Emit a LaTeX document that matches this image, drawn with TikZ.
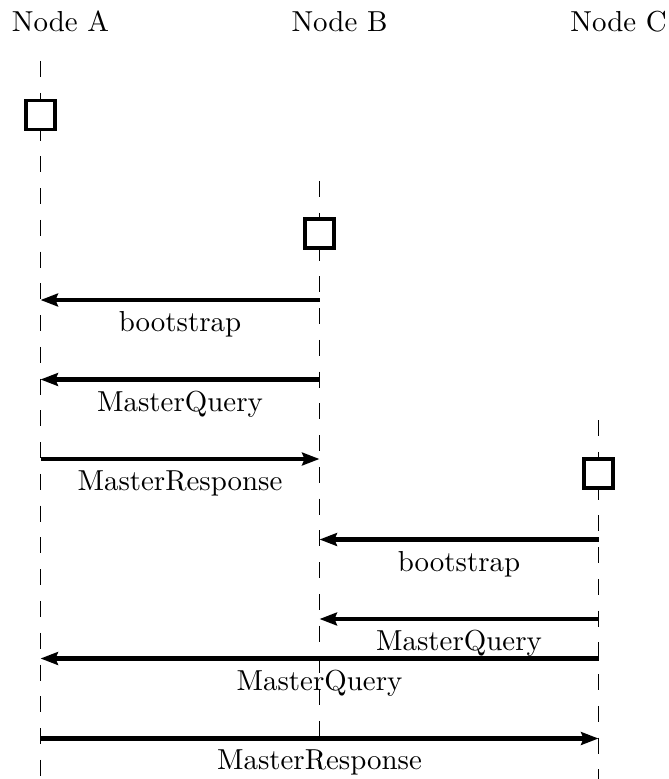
\documentclass[tikz,border=0pt]{standalone}
\usetikzlibrary{arrows.meta}
\tikzset{
  lifeline/.style={line width=0.6pt, dash pattern=on 5.54pt off 5.45pt},
  actbox/.style={draw, line width=1.2pt, fill=white, minimum size=9.9pt, inner sep=0pt},
  msg/.style={line width=1.4pt, -{Stealth[length=6pt, width=4.4pt, inset=0.8pt]}},
  msglabel/.style={below, inner sep=3.3pt},
  actor/.style={anchor=base}
}
\begin{document}
\begin{tikzpicture}[x=0.346pt, y=-0.346pt]
  \useasboundingbox (0,0) rectangle (668,779);

  % participants
  \node[actor] (nA) at (60.5,32) {Node A};
  \node[actor] (nB) at (339.5,32) {Node B};
  \node[actor] (nC) at (618.5,32) {Node C};

  % lifeline ends
  \coordinate (Atop) at (40.5,61);
  \coordinate (Abot) at (40.5,779);
  \coordinate (Btop) at (319.5,181);
  \coordinate (Bbot) at (319.5,779);
  \coordinate (Ctop) at (598.5,420);
  \coordinate (Cbot) at (598.5,779);

  \draw[lifeline] (Atop) -- (Abot);
  \draw[lifeline] (Btop) -- (Bbot);
  \draw[lifeline] (Ctop) -- (Cbot);

  % activation boxes
  \node[actbox] (boxA) at (40.5,115) {};
  \node[actbox] (boxB) at (319.5,233.5) {};
  \node[actbox] (boxC) at (598.5,473.5) {};

  % message end points on the lifelines
  \coordinate (A1) at (40.5,300);   \coordinate (B1) at (319.5,300);
  \coordinate (A2) at (40.5,379.5); \coordinate (B2) at (319.5,379.5);
  \coordinate (A3) at (40.5,459);   \coordinate (B3) at (319.5,459);
  \coordinate (B4) at (319.5,539.5); \coordinate (C4) at (598.5,539.5);
  \coordinate (B5) at (319.5,619);  \coordinate (C5) at (598.5,619);
  \coordinate (A6) at (40.5,658.5); \coordinate (C6) at (598.5,658.5);
  \coordinate (A7) at (40.5,738.5); \coordinate (C7) at (598.5,738.5);

  % messages
  \draw[msg] (B1) -- node[msglabel] (m1) {bootstrap} (A1);
  \draw[msg] (B2) -- node[msglabel] (m2) {MasterQuery} (A2);
  \draw[msg] (A3) -- node[msglabel] (m3) {MasterResponse} (B3);
  \draw[msg] (C4) -- node[msglabel] (m4) {bootstrap} (B4);
  \draw[msg] (C5) -- node[msglabel] (m5) {MasterQuery} (B5);
  \draw[msg] (C6) -- node[msglabel] (m6) {MasterQuery} (A6);
  \draw[msg] (A7) -- node[msglabel] (m7) {MasterResponse} (C7);
\end{tikzpicture}
\end{document}
